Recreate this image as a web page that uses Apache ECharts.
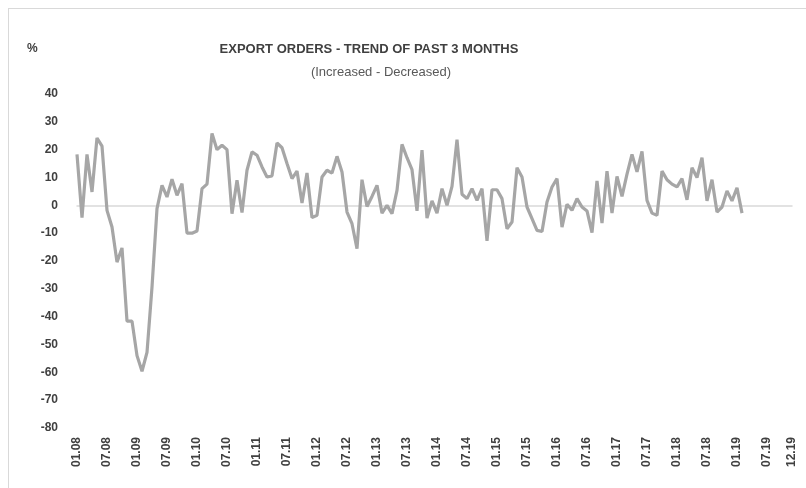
<!DOCTYPE html>
<html>
<head>
<meta charset="utf-8">
<style>
  html, body { margin: 0; padding: 0; background: #fff; }
  #frame { position: absolute; left: 8px; top: 8px; width: 806px; height: 488px; border: 1px solid #d9d9d9; box-sizing: border-box; }
  #chart { position: absolute; left: 0; top: 0; width: 806px; height: 488px; }
</style>
<script src="https://cdn.jsdelivr.net/npm/echarts@6/dist/echarts.min.js"></script>
</head>
<body>
<div id="frame"></div>
<div id="chart"></div>
<script>
// month labels 01.08 .. 12.19
const years = ["08", "09", "10", "11", "12", "13", "14", "15", "16", "17", "18", "19"]
const monthNames = ["01", "02", "03", "04", "05", "06", "07", "08", "09", "10", "11", "12"]
const months = []
years.forEach(function (y) {
  monthNames.forEach(function (m) {
    months.push(m + "." + y)
  })
})

// export orders, increased minus decreased (%), 01.08 .. 02.19
const exportOrders = [
  18.3, -4.4, 18.3, 4.8, 24.2, 21.3, -1.8, -7.8, -20.4, -15.3, -41.6, -41.6,
  -54, -59.6, -52.8, -29.4, -1.2, 7.2, 3, 9.4, 3.6, 7.8, -10, -10,
  -9.2, 6, 7.6, 25.8, 20, 21.6, 20, -3, 9, -2.6, 12.6, 19.2,
  18, 13.8, 10.2, 10.6, 22.4, 20.7, 15, 9.6, 12.3, 0.8, 11.6, -4.4,
  -3.6, 10.2, 12.6, 11.6, 17.6, 12, -2.4, -6.6, -15.6, 9.2, -0.4, 3.2,
  7.2, -2.8, 0, -3, 5.4, 21.9, 17.1, 12.8, -2, 19.8, -4.6, 1.6,
  -2.8, 6, 0, 6.8, 23.6, 4, 2.4, 6, 1.8, 6, -12.8, 5.6,
  5.6, 2.4, -8.4, -6, 13.5, 10.2, -0.6, -4.8, -9, -9.4, 1.2, 6.6,
  9.6, -7.8, 0.4, -1.8, 2.4, -0.6, -2, -9.8, 8.8, -6.4, 12.3, -2.8,
  10.4, 3.2, 11.2, 18.3, 12, 19.4, 1.8, -2.8, -3.6, 12.3, 9.2, 7.6,
  6.6, 9.6, 2, 13.5, 10, 17.1, 1.6, 9.2, -2.4, -0.6, 5.2, 1.6,
  6.3, -2.8
]

const chart = echarts.init(document.getElementById("chart"))
const lastIndex = months.length - 1

chart.setOption({
  animation: false,
  textStyle: { fontFamily: "Liberation Sans, Arial, sans-serif" },
  title: [
    {
      text: "EXPORT ORDERS - TREND OF PAST 3 MONTHS",
      left: 364,
      top: 38,
      textAlign: "center",
      textStyle: { fontSize: 13, fontWeight: "bold", color: "#404040" },
    },
    {
      text: "(Increased - Decreased)",
      left: 376,
      top: 61,
      textAlign: "center",
      textStyle: { fontSize: 13, fontWeight: "normal", color: "#595959" },
    },
    {
      text: "%",
      left: 22,
      top: 38,
      textStyle: { fontSize: 12, fontWeight: "bold", color: "#404040" },
    },
  ],
  grid: { left: 77, right: 14, top: 94, bottom: 60 },
  xAxis: {
    type: "category",
    data: months,
    boundaryGap: false,
    position: "bottom",
    axisLine: { onZero: true, lineStyle: { color: "#d9d9d9", width: 1.5 } },
    axisTick: { show: false },
    axisLabel: {
      rotate: 90,
      margin: 9,
      interval: function (index) {
        return index % 6 === 0 || index === lastIndex
      },
      color: "#404040",
      fontWeight: "bold",
      fontSize: 12,
    },
  },
  yAxis: {
    type: "value",
    min: -80,
    max: 40,
    interval: 10,
    splitLine: { show: false },
    axisLine: { show: false },
    axisTick: { show: false },
    axisLabel: { color: "#404040", fontWeight: "bold", fontSize: 12, margin: 19 },
  },
  series: [
    {
      type: "line",
      data: exportOrders,
      symbol: "none",
      lineStyle: { color: "#a6a6a6", width: 3.2 },
    },
  ],
})
</script>
</body>
</html>
